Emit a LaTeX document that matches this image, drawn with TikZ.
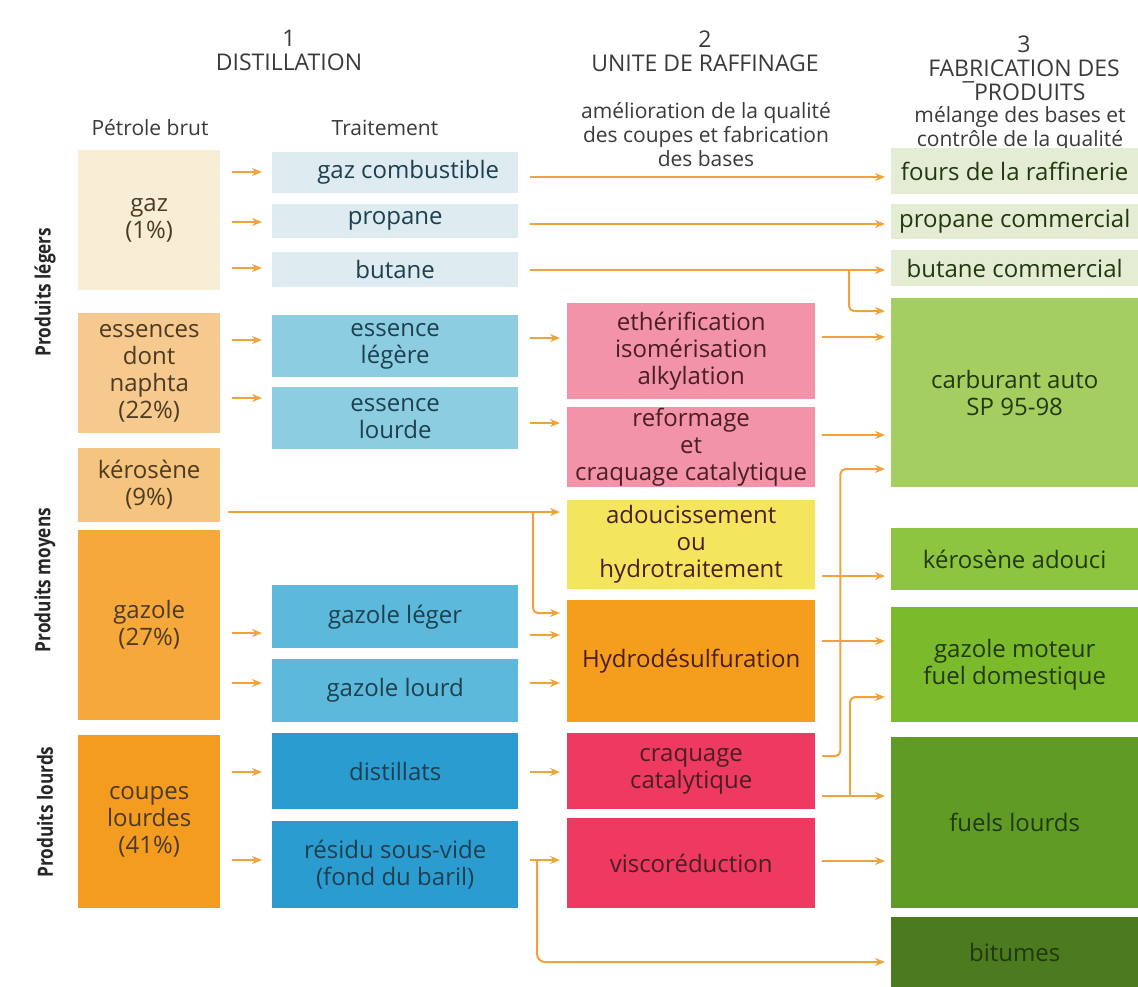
\documentclass[tikz,border=0pt]{standalone}
\usepackage{fontspec}
\setmainfont{Open Sans}
\newfontfamily\narrowfont[FakeStretch=0.82]{Open Sans}
\usetikzlibrary{arrows.meta}

\definecolor{flowcol}{HTML}{F0A33C}
\definecolor{headtext}{HTML}{3A3A3A}
\definecolor{gazfill}{HTML}{F8EED6}
\definecolor{essfill}{HTML}{F6CA8E}
\definecolor{kerofill}{HTML}{F5C47E}
\definecolor{gazolefill}{HTML}{F7A83A}
\definecolor{coupefill}{HTML}{F49C1F}
\definecolor{crudetext}{HTML}{4D3A22}
\definecolor{treatA}{HTML}{DEEBF0}
\definecolor{treatB}{HTML}{8CCDE1}
\definecolor{treatC}{HTML}{5DB9DA}
\definecolor{treatD}{HTML}{2B9CD0}
\definecolor{treattext}{HTML}{1D4050}
\definecolor{unitpink}{HTML}{F293AA}
\definecolor{unityellow}{HTML}{F3E65E}
\definecolor{unitorange}{HTML}{F59D1D}
\definecolor{unitred}{HTML}{EE3A61}
\definecolor{unittext}{HTML}{4A1E22}
\definecolor{prodA}{HTML}{E4ECD4}
\definecolor{prodB}{HTML}{A4CF60}
\definecolor{prodC}{HTML}{8DC541}
\definecolor{prodD}{HTML}{7BBA2B}
\definecolor{prodE}{HTML}{5F9B25}
\definecolor{prodF}{HTML}{4B7A1F}
\definecolor{prodtext}{HTML}{22380E}

\begin{document}
\begin{tikzpicture}[x=1pt,y=-1pt,>={Stealth[length=10pt,width=8pt]},
  cell/.style={inner sep=0pt,align=center,anchor=north west,font=\fontsize{24}{27}\selectfont},
  crude node/.style={cell,minimum width=142pt,text=crudetext},
  treat node/.style={cell,minimum width=246pt,text=treattext},
  unit node/.style={cell,minimum width=248pt,text=unittext},
  product node/.style={cell,minimum width=247pt,text=prodtext},
  head/.style={align=center,text=headtext,font=\fontsize{23}{24}\selectfont},
  sub head/.style={align=center,text=headtext,font=\fontsize{21}{24}\selectfont},
  side/.style={rotate=90,text=black!85,font=\narrowfont\bfseries\fontsize{21}{21}\selectfont},
  flow/.style={->,color=flowcol,line width=2pt}]
\useasboundingbox (0,0) rectangle (1138,987);
\fill[white] (0,0) rectangle (1138,987);

% titres
\node[head] (h1) at (289,50) {1\\DISTILLATION};
\node[head] (h2) at (705,51) {2\\UNITE DE RAFFINAGE};
\node[head] (h3) at (1024,68) {3\\FABRICATION DES\\¯PRODUITS};
\node[sub head] (crude) at (150,128) {Pétrole brut};
\node[sub head] (treat) at (385,128) {Traitement};
\node[sub head] (unit) at (706,135) {amélioration de la qualité\\des coupes et fabrication\\des bases};
\node[sub head] (blend) at (1020,129) {mélange des bases et\\contrôle de la qualité};

\node[side] (light) at (45,292) {Produits légers};
\node[side] (middle) at (45,580) {Produits moyens};
\node[side] (heavy) at (45,812) {Produits lourds};

% petrole brut
\node[crude node,fill=gazfill,minimum height=140pt] (gaz) at (78,150) {gaz\\(1\%)};
\node[crude node,fill=essfill,minimum height=120pt] (ess) at (78,313) {essences\\dont\\naphta\\(22\%)};
\node[crude node,fill=kerofill,minimum height=74pt] (kero) at (78,448) {kérosène\\(9\%)};
\node[crude node,fill=gazolefill,minimum height=190pt] (gazole) at (78,530) {gazole\\(27\%)};
\node[crude node,fill=coupefill,minimum height=173pt] (coupes) at (78,735) {coupes\\lourdes\\(41\%)};

% traitement
\node[treat node,fill=treatA,minimum height=41pt] (gc) at (272,152) {\hspace{26pt}gaz combustible};
\node[treat node,fill=treatA,minimum height=34pt] (prop) at (272,204) {propane};
\node[treat node,fill=treatA,minimum height=35pt] (but) at (272,252) {butane};
\node[treat node,fill=treatB,minimum height=62pt] (el) at (272,315) {essence\\légère};
\node[treat node,fill=treatB,minimum height=62pt] (elo) at (272,387) {essence\\lourde};
\node[treat node,fill=treatC,minimum height=63pt] (gl) at (272,585) {gazole léger};
\node[treat node,fill=treatC,minimum height=63pt] (glo) at (272,659) {gazole lourd};
\node[treat node,fill=treatD,minimum height=76pt] (dist) at (272,733) {distillats};
\node[treat node,fill=treatD,minimum height=87pt] (res) at (272,821) {résidu sous-vide\\(fond du baril)};

% unite de raffinage
\node[unit node,fill=unitpink,minimum height=96pt] (eth) at (567,303) {ethérification\\isomérisation\\alkylation};
\node[unit node,fill=unitpink,minimum height=80pt] (ref) at (567,407) {reformage\\et\\craquage catalytique};
\node[unit node,fill=unityellow,minimum height=89pt] (adou) at (567,500) {adoucissement\\ou\\hydrotraitement};
\node[unit node,fill=unitorange,minimum height=122pt] (hds) at (567,600) {Hydrodésulfuration};
\node[unit node,fill=unitred,minimum height=76pt] (cc) at (567,733) {craquage\\catalytique};
\node[unit node,fill=unitred,minimum height=90pt] (visco) at (567,818) {viscoréduction};

% produits
\node[product node,fill=prodA,minimum height=46pt] (fours) at (891,148) {fours de la raffinerie};
\node[product node,fill=prodA,minimum height=35pt] (pc) at (891,204) {propane commercial};
\node[product node,fill=prodA,minimum height=36pt] (bc) at (891,250) {butane commercial};
\node[product node,fill=prodB,minimum height=189pt] (carb) at (891,298) {carburant auto\\SP 95-98};
\node[product node,fill=prodC,minimum height=62pt] (ka) at (891,528) {kérosène adouci};
\node[product node,fill=prodD,minimum height=115pt] (gm) at (891,607) {gazole moteur\\fuel domestique};
\node[product node,fill=prodE,minimum height=171pt] (fl) at (891,737) {fuels lourds};
\node[product node,fill=prodF,minimum height=70pt] (bit) at (891,917) {bitumes};

% distillation -> traitement
\path[flow,shorten <=12pt,shorten >=10pt]
  (gaz.east |- 0,172) edge (gc.west |- 0,172)
  (gaz.east |- 0,222) edge (prop.west |- 0,222)
  (gaz.east |- 0,268) edge (but.west |- 0,268)
  (ess.east |- 0,340) edge (el.west |- 0,340)
  (ess.east |- 0,398) edge (elo.west |- 0,398)
  (gazole.east |- 0,633) edge (gl.west |- 0,633)
  (gazole.east |- 0,683) edge (glo.west |- 0,683)
  (coupes.east |- 0,772) edge (dist.west |- 0,772)
  (coupes.east |- 0,860) edge (res.west |- 0,860);

% traitement -> unites
\path[flow,shorten <=12pt,shorten >=7pt]
  (el.east |- 0,338) edge (eth.west |- 0,338)
  (elo.east |- 0,423) edge (ref.west |- 0,423)
  (gl.east |- 0,635) edge (hds.west |- 0,635)
  (glo.east |- 0,683) edge (hds.west |- 0,683)
  (dist.east |- 0,772) edge (cc.west |- 0,772)
  (res.east |- 0,860) edge (visco.west |- 0,860);

% gaz directement vers les produits
\path[flow,shorten <=12pt,shorten >=6pt]
  (gc.east |- 0,177) edge (fours.west |- 0,177)
  (prop.east |- 0,224) edge (pc.west |- 0,224)
  (but.east |- 0,270) edge (bc.west |- 0,270);

% unites -> produits
\path[flow,shorten <=7pt,shorten >=6pt]
  (eth.east |- 0,337) edge (carb.west |- 0,337)
  (ref.east |- 0,435) edge (carb.west |- 0,435)
  (adou.east |- 0,576) edge (ka.west |- 0,576)
  (hds.east |- 0,641) edge (gm.west |- 0,641)
  (cc.east |- 0,796) edge (fl.west |- 0,796)
  (visco.east |- 0,861) edge (fl.west |- 0,861);

\draw[flow,shorten <=8pt,shorten >=7pt] (kero.east |- 0,512) -- (adou.west |- 0,512);
\draw[flow,rounded corners=5pt,shorten <=7pt,shorten >=6pt] (cc.east |- 0,756) -- ++(25,0) |- (carb.west |- 0,469);

% branches
\coordinate (butsplit) at (849,270);
\coordinate (kerosplit) at (533,512);
\coordinate (ccsplit) at (850,796);
\coordinate (ressplit) at (537,860);
\draw[flow,rounded corners=5pt,shorten >=6pt] (butsplit) |- (carb.west |- 0,311);
\draw[flow,rounded corners=5pt,shorten >=7pt] (kerosplit) |- (hds.west |- 0,613);
\draw[flow,rounded corners=5pt,shorten >=6pt] (ccsplit) |- (gm.west |- 0,697);
\draw[flow,rounded corners=8pt,shorten >=6pt] (ressplit) |- (bit.west |- 0,962);
\end{tikzpicture}
\end{document}
